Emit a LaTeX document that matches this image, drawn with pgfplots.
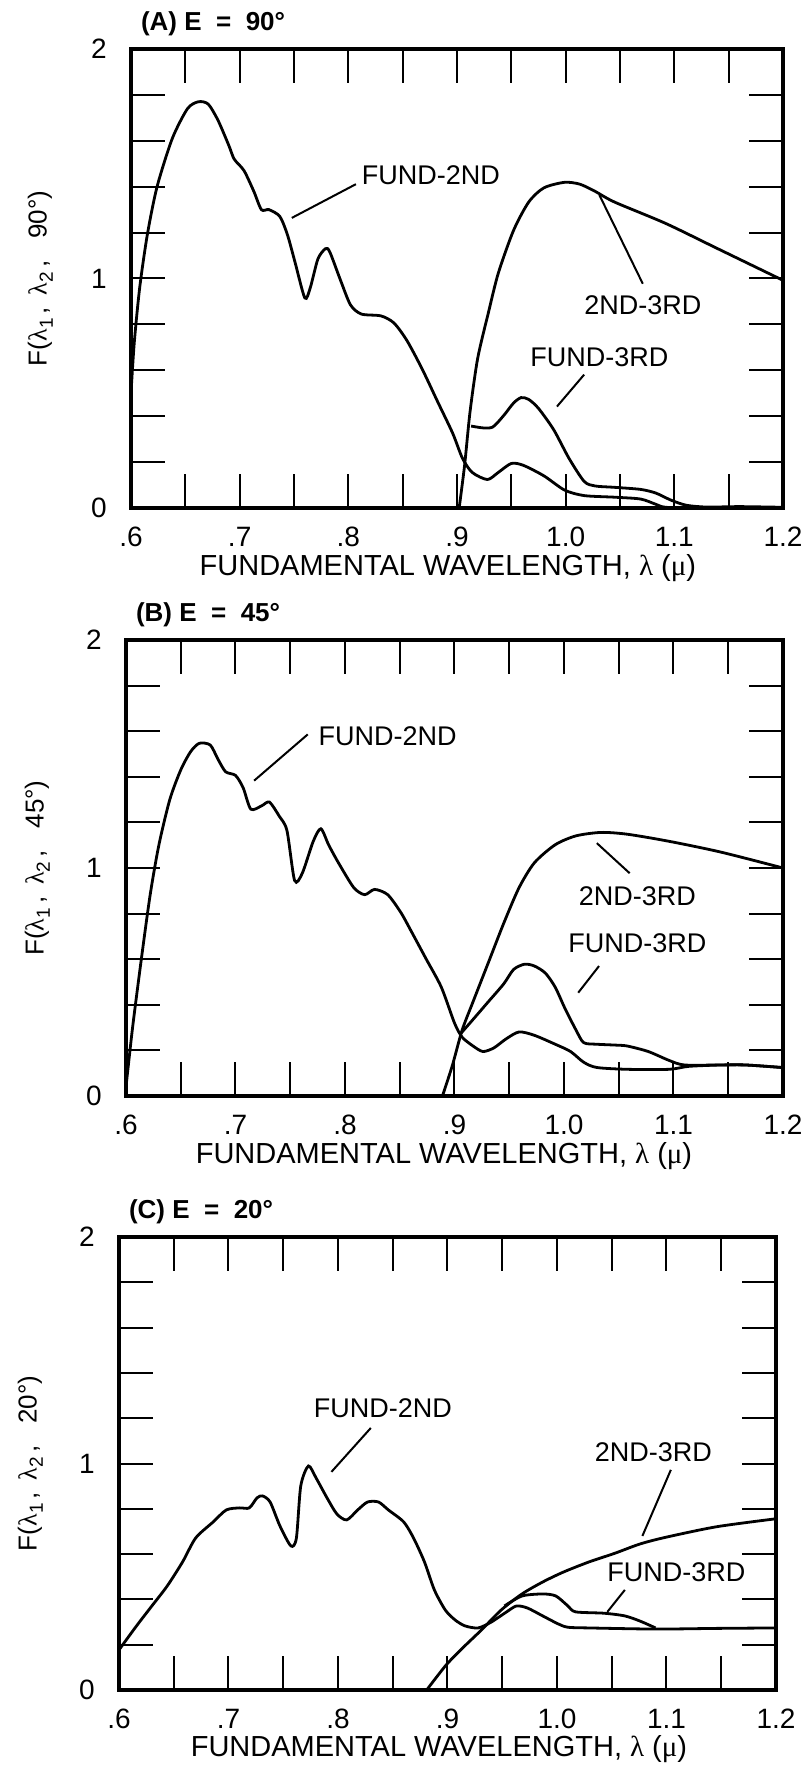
\documentclass[border=0pt]{standalone}
\usepackage{pgfplots}
\pgfplotsset{compat=1.18}
\usepackage{fontspec}
\setmainfont{Liberation Sans}
\newfontfamily\grk{Liberation Serif}
\newcommand\sub[1]{\raisebox{-0.45ex}{\fontsize{9.5}{10}\selectfont #1}}
\tikzset{
  ann/.style={font=\fontsize{13.5}{14}\selectfont},
  lead/.style={line width=1pt},
}
\pgfplotsset{
  crv/.style={black, line width=1.4pt, smooth, tension=0.45, mark=none},
  panel/.style={
    scale only axis, anchor=south west,
    xmin=0.6, xmax=1.2, ymin=0, ymax=2,
    xtick={0.6,0.7,0.8,0.9,1.0,1.1,1.2},
    xticklabels={.6,.7,.8,.9,1.0,1.1,1.2},
    minor xtick={0.65,0.75,0.85,0.95,1.05,1.15},
    ytick={0,1,2}, yticklabels={0,1,2},
    minor ytick={0.2,0.4,0.6,0.8,1.2,1.4,1.6,1.8},
    tick align=inside, tick pos=both,
    major tick length=17pt, minor tick length=17pt,
    major tick style={black, line width=1pt},
    minor tick style={black, line width=1pt},
    axis line style={line width=1.6pt},
    /pgf/number format/assume math mode=true,
    ticklabel style={font=\fontsize{14}{14}\selectfont},
    xticklabel style={anchor=center, yshift=-14.5pt},
    yticklabel style={anchor=center, xshift=-16pt},
    xlabel={FUNDAMENTAL WAVELENGTH, {\grk λ} ({\grk μ})},
    xlabel style={font=\fontsize{14.5}{15}\selectfont, anchor=center},
    ylabel style={font=\fontsize{13}{13}\selectfont, anchor=center},
    title style={font=\bfseries\fontsize{13}{13}\selectfont, anchor=west, at={(axis description cs:0,1)}, yshift=6.5pt, xshift=1.5pt},
  }
}
\begin{document}
\begin{tikzpicture}
\useasboundingbox (0,0) rectangle (402.5pt,884pt);
% ---------------- Panel A
\begin{axis}[panel, at={(65.5pt,630pt)}, width=326pt, height=229.5pt,
  title={(A) E\ \ =\ \ 90°},
  xlabel style={at={(axis description cs:0.486,0)}, yshift=-30pt},
  ylabel={F({\grk λ}\sub{1}\,,\ \,{\grk λ}\sub{2}\,,\ \ \ 90°)},
  ylabel style={at={(axis description cs:-0.139,0.5)}}]
\addplot[crv] coordinates {(0.600,0.50) (0.603,0.72) (0.608,0.96) (0.615,1.19) (0.624,1.40) (0.638,1.61) (0.652,1.74) (0.662,1.77) (0.671,1.76) (0.680,1.69) (0.690,1.58) (0.695,1.52) (0.704,1.47) (0.713,1.38) (0.720,1.30) (0.727,1.30) (0.737,1.27) (0.744,1.19) (0.751,1.07) (0.760,0.915) (0.765,0.96) (0.772,1.085) (0.779,1.13) (0.783,1.115) (0.793,0.99) (0.802,0.885) (0.812,0.845) (0.830,0.837) (0.842,0.806) (0.854,0.729) (0.868,0.605) (0.882,0.465) (0.896,0.326) (0.905,0.217) (0.914,0.155) (0.928,0.124) (0.938,0.155) (0.950,0.194) (0.961,0.186) (0.980,0.140) (0.999,0.078) (1.017,0.054) (1.045,0.047) (1.069,0.039) (1.083,0.016) (1.092,0.003) (1.12,0.0)};
\addplot[crv] coordinates {(0.902,0.0) (0.907,0.186) (0.912,0.419) (0.919,0.651) (0.929,0.853) (0.938,1.023) (0.952,1.209) (0.966,1.333) (0.980,1.395) (0.999,1.419) (1.013,1.411) (1.027,1.380) (1.045,1.333) (1.092,1.240) (1.139,1.132) (1.200,0.992)};
\addplot[crv] coordinates {(0.913,0.357) (0.924,0.349) (0.933,0.353) (0.943,0.403) (0.952,0.457) (0.959,0.481) (0.966,0.473) (0.975,0.434) (0.989,0.341) (1.003,0.217) (1.017,0.116) (1.027,0.096) (1.045,0.090) (1.069,0.081) (1.083,0.065) (1.097,0.034) (1.111,0.012) (1.130,0.004) (1.160,0.006) (1.200,0.003)};
\node[ann] at (axis cs:0.876,1.45) {FUND-2ND};
\draw[lead] (axis cs:0.807,1.411) -- (axis cs:0.748,1.264);
\node[ann] at (axis cs:1.071,0.884) {2ND-3RD};
\draw[lead] (axis cs:1.031,1.364) -- (axis cs:1.071,0.977);
\node[ann] at (axis cs:1.031,0.659) {FUND-3RD};
\draw[lead] (axis cs:1.017,0.581) -- (axis cs:0.992,0.442);
\end{axis}
% ---------------- Panel B
\begin{axis}[panel, at={(63pt,336pt)}, width=328.5pt, height=228pt,
  title={(B) E\ \ =\ \ 45°},
  xlabel style={at={(axis description cs:0.484,0)}, yshift=-30pt},
  ylabel={F({\grk λ}\sub{1}\,,\ \,{\grk λ}\sub{2}\,,\ \ \ 45°)},
  ylabel style={at={(axis description cs:-0.135,0.5)}}]
\addplot[crv] coordinates {(0.600,0.040) (0.606,0.300) (0.614,0.600) (0.622,0.880) (0.630,1.100) (0.640,1.300) (0.650,1.430) (0.659,1.510) (0.667,1.547) (0.677,1.539) (0.684,1.477) (0.691,1.422) (0.700,1.406) (0.707,1.352) (0.714,1.258) (0.724,1.273) (0.731,1.289) (0.740,1.227) (0.747,1.164) (0.754,0.945) (0.761,0.977) (0.771,1.117) (0.778,1.172) (0.785,1.102) (0.794,1.023) (0.808,0.914) (0.818,0.883) (0.827,0.906) (0.839,0.883) (0.851,0.805) (0.860,0.727) (0.874,0.602) (0.888,0.477) (0.900,0.320) (0.907,0.258) (0.917,0.219) (0.926,0.195) (0.936,0.211) (0.947,0.250) (0.959,0.281) (0.973,0.266) (0.992,0.227) (1.006,0.195) (1.018,0.148) (1.030,0.125) (1.058,0.117) (1.096,0.117) (1.114,0.130) (1.143,0.136) (1.166,0.136) (1.199,0.125)};
\addplot[crv] coordinates {(0.889,0.0) (0.898,0.133) (0.907,0.289) (0.917,0.414) (0.931,0.586) (0.945,0.758) (0.959,0.914) (0.973,1.023) (0.992,1.102) (1.011,1.141) (1.034,1.156) (1.058,1.148) (1.096,1.117) (1.143,1.070) (1.200,1.000)};
\addplot[crv] coordinates {(0.905,0.270) (0.917,0.336) (0.931,0.414) (0.945,0.492) (0.954,0.555) (0.964,0.578) (0.973,0.570) (0.983,0.539) (0.992,0.477) (1.001,0.383) (1.011,0.289) (1.018,0.234) (1.030,0.227) (1.048,0.223) (1.058,0.219) (1.077,0.195) (1.096,0.156) (1.110,0.136) (1.143,0.136) (1.166,0.136) (1.199,0.125)};
\node[ann] at (axis cs:0.839,1.578) {FUND-2ND};
\draw[lead] (axis cs:0.766,1.586) -- (axis cs:0.717,1.383);
\node[ann] at (axis cs:1.067,0.875) {2ND-3RD};
\draw[lead] (axis cs:1.030,1.109) -- (axis cs:1.060,0.977);
\node[ann] at (axis cs:1.067,0.672) {FUND-3RD};
\draw[lead] (axis cs:1.032,0.570) -- (axis cs:1.013,0.453);
\end{axis}
% ---------------- Panel C
\begin{axis}[panel, at={(59.5pt,39pt)}, width=328.5pt, height=226.5pt,
  title={(C) E\ \ =\ \ 20°},
  xlabel style={at={(axis description cs:0.487,0)}, yshift=-29.5pt},
  ylabel={F({\grk λ}\sub{1}\,,\ \,{\grk λ}\sub{2}\,,\ \ \ 20°)},
  ylabel style={at={(axis description cs:-0.135,0.5)}}]
\addplot[crv] coordinates {(0.600,0.177) (0.616,0.283) (0.630,0.371) (0.644,0.459) (0.658,0.565) (0.670,0.671) (0.686,0.742) (0.698,0.795) (0.710,0.804) (0.719,0.804) (0.726,0.848) (0.731,0.857) (0.738,0.830) (0.747,0.724) (0.757,0.636) (0.762,0.671) (0.766,0.901) (0.773,0.989) (0.780,0.936) (0.790,0.848) (0.799,0.777) (0.808,0.751) (0.818,0.795) (0.827,0.830) (0.837,0.830) (0.846,0.795) (0.860,0.742) (0.869,0.671) (0.879,0.565) (0.888,0.442) (0.898,0.353) (0.907,0.309) (0.916,0.283) (0.928,0.274) (0.940,0.300) (0.954,0.345) (0.963,0.371) (0.973,0.362) (0.987,0.327) (1.001,0.292) (1.010,0.277) (1.029,0.274) (1.090,0.269) (1.146,0.272) (1.200,0.274)};
\addplot[crv] coordinates {(0.881,0.0) (0.898,0.106) (0.912,0.177) (0.931,0.265) (0.949,0.353) (0.968,0.424) (0.987,0.477) (1.006,0.521) (1.029,0.565) (1.053,0.604) (1.076,0.645) (1.100,0.675) (1.146,0.721) (1.200,0.756)};
\addplot[crv] coordinates {(0.952,0.371) (0.968,0.415) (0.987,0.424) (0.999,0.415) (1.010,0.371) (1.017,0.345) (1.043,0.339) (1.062,0.327) (1.076,0.304) (1.090,0.274)};
\node[ann] at (axis cs:0.841,1.246) {FUND-2ND};
\draw[lead] (axis cs:0.830,1.157) -- (axis cs:0.794,0.963);
\node[ann] at (axis cs:1.088,1.051) {2ND-3RD};
\draw[lead] (axis cs:1.104,0.972) -- (axis cs:1.078,0.680);
\node[ann] at (axis cs:1.109,0.521) {FUND-3RD};
\draw[lead] (axis cs:1.062,0.442) -- (axis cs:1.046,0.345);
\end{axis}
\end{tikzpicture}
\end{document}
